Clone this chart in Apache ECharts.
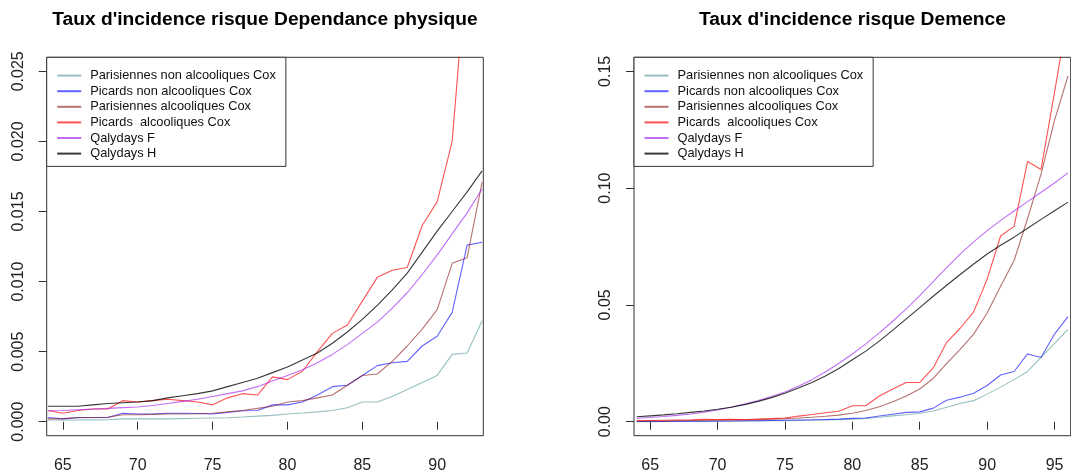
<!DOCTYPE html>
<html>
<head>
<meta charset="utf-8">
<script src="https://cdn.jsdelivr.net/npm/echarts@6/dist/echarts.min.js"></script>
<style>
html,body{margin:0;padding:0;background:#fff;}
#chart{width:1071px;height:475px;}
</style>
</head>
<body>
<div id="chart"></div>
<script>
// ---------- data ----------
const seriesNames = [
  "Parisiennes non alcooliques Cox",
  "Picards non alcooliques Cox",
  "Parisiennes alcooliques Cox",
  "Picards  alcooliques Cox",
  "Qalydays F",
  "Qalydays H"
];
const titleLeft = "Taux d'incidence risque Dependance physique";
const titleRight = "Taux d'incidence risque Demence";

// Left panel (Dependance physique), ages 64..93
const agesLeft = [64,65,66,67,68,69,70,71,72,73,74,75,76,77,78,79,80,81,82,83,84,85,86,87,88,89,90,91,92,93];
const parisNonAlcLeft = [0.00012,0.00012,0.00012,0.00013,0.00014,0.0002,0.0002,0.0002,0.0002,0.00022,0.00024,0.00026,0.00028,0.00033,0.0004,0.00045,0.00055,0.00062,0.0007,0.0008,0.001,0.0014,0.0014,0.0018,0.0023,0.0028,0.0033,0.0048,0.0049,0.0072];
const picNonAlcLeft = [0.0003,0.0002,0.0003,0.0003,0.0003,0.0006,0.00055,0.00055,0.0006,0.0006,0.00058,0.00055,0.00065,0.00078,0.0008,0.0012,0.0012,0.0014,0.0019,0.0025,0.0026,0.0033,0.0040,0.0042,0.0043,0.0054,0.0061,0.0078,0.0126,0.0128];
const parisAlcLeft = [0.0002,0.00022,0.00028,0.0003,0.00032,0.0005,0.0005,0.00052,0.00055,0.00055,0.00057,0.0006,0.0007,0.0008,0.00095,0.0011,0.0014,0.0015,0.0017,0.0019,0.0026,0.0033,0.0034,0.0043,0.0054,0.0066,0.0080,0.0113,0.0117,0.0171];
const picAlcLeft = [0.0008,0.0006,0.0008,0.0009,0.0009,0.0015,0.0014,0.0015,0.0016,0.0015,0.0014,0.0012,0.0017,0.0020,0.0019,0.0032,0.0030,0.0036,0.0050,0.0063,0.0069,0.0086,0.0103,0.0108,0.0110,0.0140,0.0157,0.0200,0.0330,null];
const qalyFLeft = [0.00078,0.0008,0.00085,0.0009,0.00095,0.001,0.00105,0.00115,0.0013,0.00145,0.0016,0.0018,0.0020,0.0022,0.0025,0.0029,0.0033,0.0037,0.0042,0.0048,0.0055,0.0063,0.0071,0.0081,0.0092,0.0105,0.0119,0.0134,0.0149,0.0166];
const qalyHLeft = [0.0011,0.0011,0.0011,0.0012,0.0013,0.00135,0.0014,0.0015,0.0017,0.00185,0.0020,0.0022,0.0025,0.0028,0.0031,0.0035,0.0039,0.0044,0.0049,0.0056,0.0064,0.0073,0.0083,0.0094,0.0106,0.0121,0.0136,0.0150,0.0164,0.0179];

// Right panel (Demence), ages 64..96
const agesRight = [64,65,66,67,68,69,70,71,72,73,74,75,76,77,78,79,80,81,82,83,84,85,86,87,88,89,90,91,92,93,94,95,96];
const parisNonAlcRight = [0.0000,0.0000,0.0001,0.0001,0.0001,0.0002,0.0002,0.0002,0.0003,0.0003,0.0004,0.0004,0.0005,0.0006,0.0008,0.0009,0.0011,0.0014,0.0019,0.0025,0.0030,0.0036,0.0046,0.0062,0.0078,0.0090,0.0118,0.0148,0.0180,0.0215,0.0275,0.0335,0.0395];
const picNonAlcRight = [0.0001,0.0001,0.0001,0.0002,0.0002,0.0002,0.0003,0.0003,0.0004,0.0004,0.0005,0.0006,0.0007,0.0008,0.0009,0.0011,0.0014,0.0016,0.0024,0.0032,0.0040,0.0042,0.0058,0.0092,0.0105,0.0122,0.0155,0.0200,0.0215,0.0290,0.0275,0.0375,0.0450];
const parisAlcRight = [0.0002,0.0003,0.0003,0.0004,0.0005,0.0006,0.0007,0.0008,0.0008,0.0009,0.0011,0.0013,0.0016,0.0019,0.0023,0.0028,0.0036,0.0048,0.0064,0.0085,0.0110,0.0140,0.0185,0.0250,0.0310,0.0375,0.0465,0.0580,0.0690,0.0870,0.1060,0.1290,0.1480];
const picAlcRight = [0.0005,0.0005,0.0006,0.0007,0.0008,0.0010,0.0009,0.0010,0.0008,0.0011,0.0013,0.0016,0.0024,0.0031,0.0038,0.0045,0.0068,0.0068,0.0110,0.0140,0.0168,0.0168,0.0230,0.0340,0.0400,0.0470,0.0610,0.0795,0.0836,0.1114,0.1080,0.1410,0.1750];
const qalyFRight = [0.0015,0.0018,0.0022,0.0027,0.0033,0.0041,0.0050,0.0062,0.0076,0.0091,0.0108,0.0127,0.0152,0.0180,0.0213,0.0250,0.0290,0.0333,0.0380,0.0430,0.0483,0.0540,0.0600,0.0660,0.0717,0.0770,0.0818,0.0862,0.0902,0.0942,0.0982,0.1022,0.1065];
const qalyHRight = [0.0021,0.0025,0.0029,0.0034,0.0040,0.0046,0.0053,0.0062,0.0073,0.0087,0.0103,0.0122,0.0144,0.0168,0.0196,0.0228,0.0265,0.0302,0.0345,0.0392,0.0440,0.0488,0.0537,0.0584,0.0630,0.0675,0.0718,0.0755,0.0790,0.0828,0.0866,0.0903,0.0940];

const xTicksLeft = [65,70,75,80,85,90];
const yTicksLeft = [0,0.005,0.010,0.015,0.020,0.025];
const xTicksRight = [65,70,75,80,85,90,95];
const yTicksRight = [0,0.05,0.10,0.15];

// ---------- styles ----------
const colors = [
  'rgba(95,158,160,0.65)',
  'rgba(0,0,255,0.62)',
  'rgba(139,26,26,0.62)',
  'rgba(255,0,0,0.68)',
  'rgba(160,32,240,0.65)',
  'rgba(0,0,0,0.78)'
];
const FONT = '"Liberation Sans", Arial, sans-serif';

const G = [
  {left: 46.7, top: 57.3, width: 436.6, height: 378.4},
  {left: 634, top: 57.3, width: 436.7, height: 378.4}
];

function pairs(xs, ys){ return xs.map((x,i)=>[x, ys[i]]); }

const leftSets = [parisNonAlcLeft, picNonAlcLeft, parisAlcLeft, picAlcLeft, qalyFLeft, qalyHLeft];
const rightSets = [parisNonAlcRight, picNonAlcRight, parisAlcRight, picAlcRight, qalyFRight, qalyHRight];

const series = [];
leftSets.forEach((d,i)=>{
  series.push({name: seriesNames[i], type:'line', xAxisIndex:0, yAxisIndex:0,
    data: pairs(agesLeft, d), showSymbol:false, symbol:'none', clip:true, animation:false,
    lineStyle:{color: colors[i], width:1.1}, itemStyle:{color: colors[i]}, z: 2});
});
rightSets.forEach((d,i)=>{
  series.push({name: seriesNames[i], type:'line', xAxisIndex:1, yAxisIndex:1,
    data: pairs(agesRight, d), showSymbol:false, symbol:'none', clip:true, animation:false,
    lineStyle:{color: colors[i], width:1.1}, itemStyle:{color: colors[i]}, z: 2});
});

function xAxis(idx, min, max, ticks){
  return {type:'value', gridIndex: idx, min: min, max: max,
    axisLine:{show:false}, splitLine:{show:false},
    axisTick:{show:true, customValues: ticks, length: 8, lineStyle:{color:'#333', width:1}},
    axisLabel:{show:true, customValues: ticks, margin: 22, fontSize: 16, fontFamily: FONT, color:'#222'}};
}
function yAxis(idx, min, max, ticks, dec){
  return {type:'value', gridIndex: idx, min: min, max: max,
    axisLine:{show:false}, splitLine:{show:false},
    axisTick:{show:true, customValues: ticks, length: 8, lineStyle:{color:'#333', width:1}},
    axisLabel:{show:true, customValues: ticks, rotate: 90, margin: 20, fontSize: 16, fontFamily: FONT, color:'#222',
      formatter: v => Number(v).toFixed(dec)}};
}

function legend(idx, left){
  return {orient:'vertical', left: left, top: 57.3, padding:[10.5, 10, 5, 10.5], itemGap: 0,
    itemWidth: 24, itemHeight: 2, icon:'rect', borderColor:'#333', borderWidth:1, backgroundColor:'#fff',
    selectedMode:false, data: seriesNames,
    textStyle:{fontSize: 12.8, fontFamily: FONT, color:'#111', lineHeight: 15.6, padding:[0,0,0,4]}};
}

const chart = echarts.init(document.getElementById('chart'), null, {renderer:'canvas'});
chart.setOption({
  animation:false,
  backgroundColor:'#fff',
  grid: G.map(g => Object.assign({show:true, borderColor:'#333', borderWidth:1, backgroundColor:'transparent', containLabel:false, outerBoundsMode:'none'}, g)),
  xAxis: [xAxis(0, 63.92, 93.08, xTicksLeft), xAxis(1, 63.8, 96.2, xTicksRight)],
  yAxis: [yAxis(0, -0.001, 0.026, yTicksLeft, 3), yAxis(1, -0.006, 0.156, yTicksRight, 2)],
  legend: [legend(0, 46.7), legend(1, 634)],
  series: series,
  graphic: [
    {type:'text', x: 265, y: 20, style:{text: titleLeft, font: 'bold 19.2px ' + FONT, fill:'#000', textAlign:'center', textVerticalAlign:'middle'}},
    {type:'text', x: 852.4, y: 20, style:{text: titleRight, font: 'bold 19.2px ' + FONT, fill:'#000', textAlign:'center', textVerticalAlign:'middle'}}
  ]
});
</script>
</body>
</html>
